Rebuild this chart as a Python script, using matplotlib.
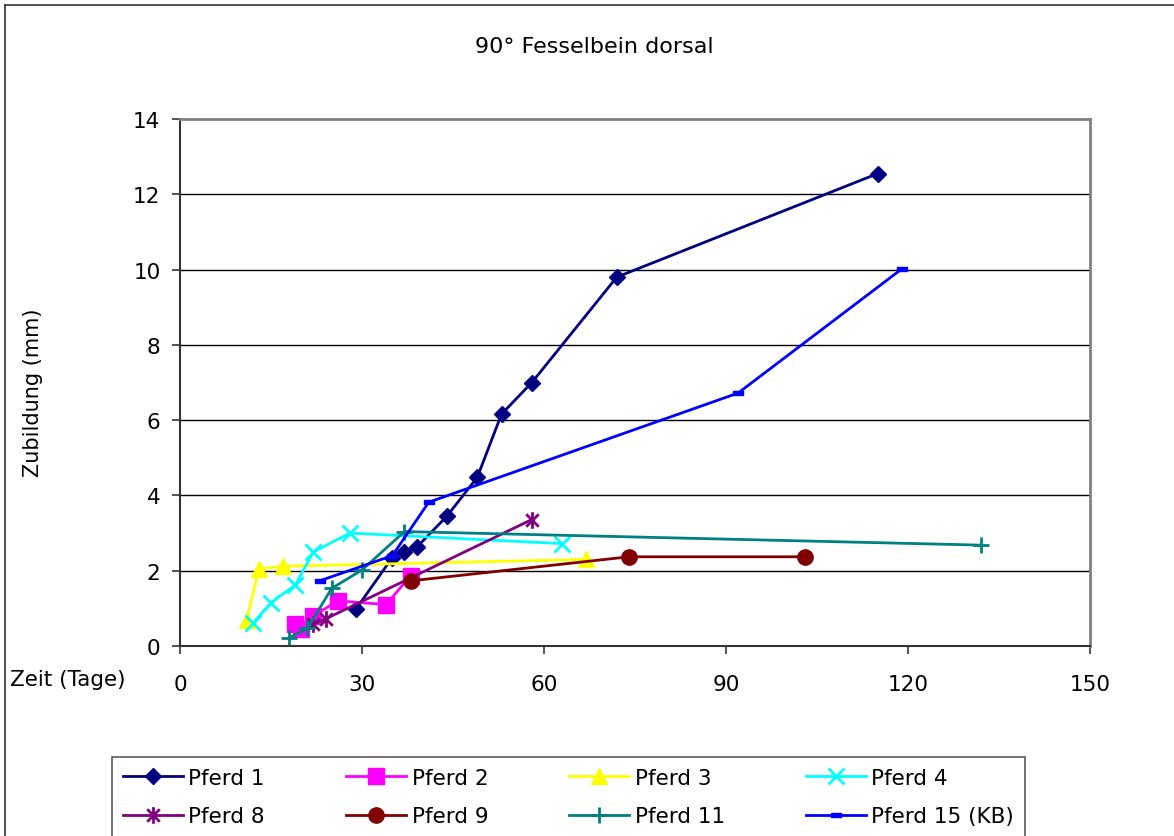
import matplotlib
matplotlib.use("Agg")
import matplotlib.pyplot as plt
from matplotlib.path import Path
from matplotlib.lines import Line2D
import numpy as np

plt.rcParams['font.family'] = ['DejaVu Sans']

title = "90° Fesselbein dorsal"
x_label = "Zeit (Tage)"
y_label = "Zubildung (mm)"
x_ticks = [0, 30, 60, 90, 120, 150]
y_ticks = [0, 2, 4, 6, 8, 10, 12, 14]

p1_x = [29, 35, 37, 39, 44, 49, 53, 58, 72, 115]
p1_y = [0.98, 2.35, 2.5, 2.62, 3.45, 4.48, 6.16, 7.0, 9.8, 12.55]
p2_x = [19, 20, 22, 26, 34, 38]
p2_y = [0.58, 0.45, 0.8, 1.2, 1.1, 1.87]
p3_x = [11, 13, 17, 67]
p3_y = [0.7, 2.05, 2.12, 2.3]
p4_x = [12, 15, 19, 22, 28, 63]
p4_y = [0.6, 1.15, 1.62, 2.5, 3.0, 2.72]
p8_x = [22, 24, 58]
p8_y = [0.58, 0.72, 3.36]
p9_x = [38, 74, 103]
p9_y = [1.73, 2.37, 2.37]
p11_x = [18, 21, 25, 30, 37, 132]
p11_y = [0.22, 0.47, 1.53, 2.02, 3.04, 2.68]
p15_x = [23, 35, 41, 92, 119]
p15_y = [1.73, 2.4, 3.82, 6.72, 10.02]

W, H = 1174, 837
fig = plt.figure(figsize=(W / 100, H / 100), dpi=100)

# outer chart frame (left and top visible)
fig.add_artist(Line2D([5 / W, 5 / W], [-0.01, 1 - 6 / H], color='#333333', lw=1.2))
fig.add_artist(Line2D([5 / W, 1.01], [1 - 6 / H, 1 - 6 / H], color='#333333', lw=1.2))

ax = fig.add_axes([180 / W, 1 - 647 / H, (1090 - 180) / W, (647 - 120) / H])

asterisk = Path([(0, -1), (0, 1), (-0.75, -0.75), (0.75, 0.75), (-0.75, 0.75), (0.75, -0.75)],
                [Path.MOVETO, Path.LINETO, Path.MOVETO, Path.LINETO, Path.MOVETO, Path.LINETO])
dash = Path([(-1, -0.4), (1, -0.4), (1, 0.4), (-1, 0.4), (-1, -0.4)],
            [Path.MOVETO, Path.LINETO, Path.LINETO, Path.LINETO, Path.CLOSEPOLY])

series = [
    ("Pferd 1", p1_x, p1_y, '#000080', 'D', 8.5, {}),
    ("Pferd 2", p2_x, p2_y, '#FF00FF', 's', 11, {}),
    ("Pferd 3", p3_x, p3_y, '#FFFF00', '^', 12, {}),
    ("Pferd 4", p4_x, p4_y, '#00FFFF', 'x', 11, {'markeredgewidth': 2}),
    ("Pferd 8", p8_x, p8_y, '#800080', asterisk, 12, {'markeredgewidth': 2}),
    ("Pferd 9", p9_x, p9_y, '#800000', 'o', 11, {}),
    ("Pferd 11", p11_x, p11_y, '#008080', '+', 12, {'markeredgewidth': 2}),
    ("Pferd 15 (KB)", p15_x, p15_y, '#0000FF', dash, 7, {}),
]

handles = {}
for name, xs, ys, c, m, ms, kw in series:
    ln, = ax.plot(xs, ys, color=c, lw=2.0, marker=m, markersize=ms,
                  markerfacecolor=c, markeredgecolor=c, label=name, clip_on=False, **kw)
    handles[name] = ln

ax.set_xlim(0, 150)
ax.set_ylim(0, 14)
ax.set_xticks(x_ticks)
ax.set_yticks(y_ticks)
ax.set_xticklabels([str(v) for v in x_ticks])
ax.set_yticklabels([str(v) for v in y_ticks])
ax.tick_params(axis='both', direction='out', length=6, width=1.2, colors='#333333',
               labelsize=15.5, labelcolor='black')
ax.tick_params(axis='x', pad=14)
ax.tick_params(axis='y', pad=8)

for yv in y_ticks[1:-1]:
    ax.axhline(yv, color='black', lw=1.0, zorder=0)

ax.spines['left'].set_color('#333333')
ax.spines['bottom'].set_color('#333333')
ax.spines['left'].set_linewidth(1.5)
ax.spines['bottom'].set_linewidth(1.5)
ax.spines['top'].set_color('#808080')
ax.spines['right'].set_color('#808080')
ax.spines['top'].set_linewidth(2)
ax.spines['right'].set_linewidth(2)

fig.text(594 / W, 1 - 47 / H, title, ha='center', va='center', fontsize=16)
fig.text(10 / W, 1 - 680 / H, x_label, ha='left', va='center', fontsize=15.5)
fig.text(33 / W, 1 - 393 / H, y_label, ha='center', va='center', rotation=90, fontsize=15)

order = ["Pferd 1", "Pferd 8", "Pferd 2", "Pferd 9", "Pferd 3", "Pferd 11", "Pferd 4", "Pferd 15 (KB)"]
leg = fig.legend([handles[n] for n in order], order,
                 loc='upper left', bbox_to_anchor=(112 / W, 1 - 835 / H, (1025 - 112) / W, (835 - 758) / H),
                 mode='expand', ncol=4, fontsize=15.5, frameon=True, fancybox=False,
                 handlelength=2.8, handletextpad=0.25, borderaxespad=0, borderpad=0.5,
                 labelspacing=0.85, columnspacing=4.0)
leg.get_frame().set_edgecolor('#333333')
leg.get_frame().set_linewidth(1.2)

fig.savefig("out.png", dpi=100)
